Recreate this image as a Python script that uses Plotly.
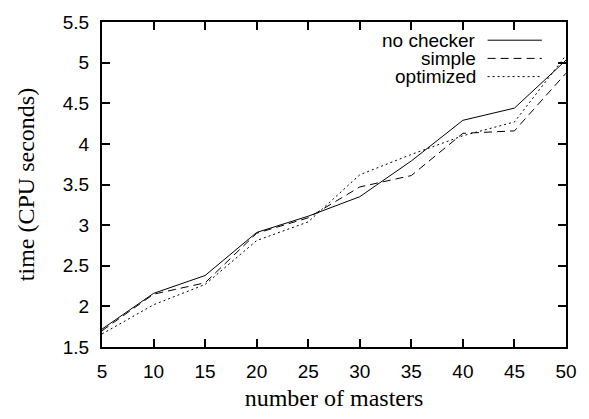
import plotly.graph_objects as go

masters = [5, 10, 15, 20, 25, 30, 35, 40, 45, 50]
no_checker = [1.72, 2.16, 2.38, 2.91, 3.11, 3.35, 3.79, 4.29, 4.44, 5.03]
simple = [1.70, 2.15, 2.29, 2.90, 3.09, 3.47, 3.61, 4.13, 4.16, 4.87]
optimized = [1.66, 2.02, 2.27, 2.81, 3.04, 3.62, 3.87, 4.10, 4.27, 5.09]

series_names = ["no checker", "simple", "optimized"]
series_values = [no_checker, simple, optimized]
dashes = ["solid", "8px,5px", "2px,3px"]

x_ticks = [5, 10, 15, 20, 25, 30, 35, 40, 45, 50]
y_ticks = [1.5, 2, 2.5, 3, 3.5, 4, 4.5, 5, 5.5]
y_labels = ["1.5", "2", "2.5", "3", "3.5", "4", "4.5", "5", "5.5"]

fig = go.Figure()
for name, vals, d in zip(series_names, series_values, dashes):
    fig.add_trace(go.Scatter(x=masters, y=vals, mode="lines", name=name,
                             line=dict(color="black", width=1, dash=d),
                             showlegend=False))

sans = "Liberation Sans, Arial, sans-serif"
serif = "Liberation Serif, Times New Roman, serif"

# legend drawn gnuplot-style: right-aligned text, key sample to the right
leg_y = [0.944, 0.888, 0.832]
for name, d, yy in zip(series_names, dashes, leg_y):
    fig.add_annotation(x=0.809, y=yy, xref="paper", yref="paper", text=name,
                       showarrow=False, xanchor="right", yanchor="middle",
                       borderpad=0,
                       font=dict(family=sans, size=19, color="black"))
    fig.add_shape(type="line", xref="paper", yref="paper",
                  x0=0.831, x1=0.948, y0=yy, y1=yy,
                  line=dict(color="black", width=1, dash=d))

axis_common = dict(showgrid=False, zeroline=False, showline=True, linecolor="black",
                   linewidth=2, mirror="ticks", ticks="inside", ticklen=8,
                   tickwidth=2, tickcolor="black",
                   tickfont=dict(family=sans, size=19, color="black"))

fig.update_layout(
    width=589, height=419,
    margin=dict(l=102, r=15, t=20, b=58),
    paper_bgcolor="white", plot_bgcolor="white",
    xaxis=dict(range=[5, 50], tickvals=x_ticks, ticklabelstandoff=6,
               title=dict(text="number of masters", standoff=8,
                          font=dict(family=serif, size=24, color="black")),
               **axis_common),
    yaxis=dict(range=[1.5, 5.5], tickvals=y_ticks, ticktext=y_labels,
               ticklabelstandoff=7,
               title=dict(text="time (CPU seconds)", standoff=21,
                          font=dict(family=serif, size=24, color="black")),
               **axis_common),
)

fig.write_html("out.html")
